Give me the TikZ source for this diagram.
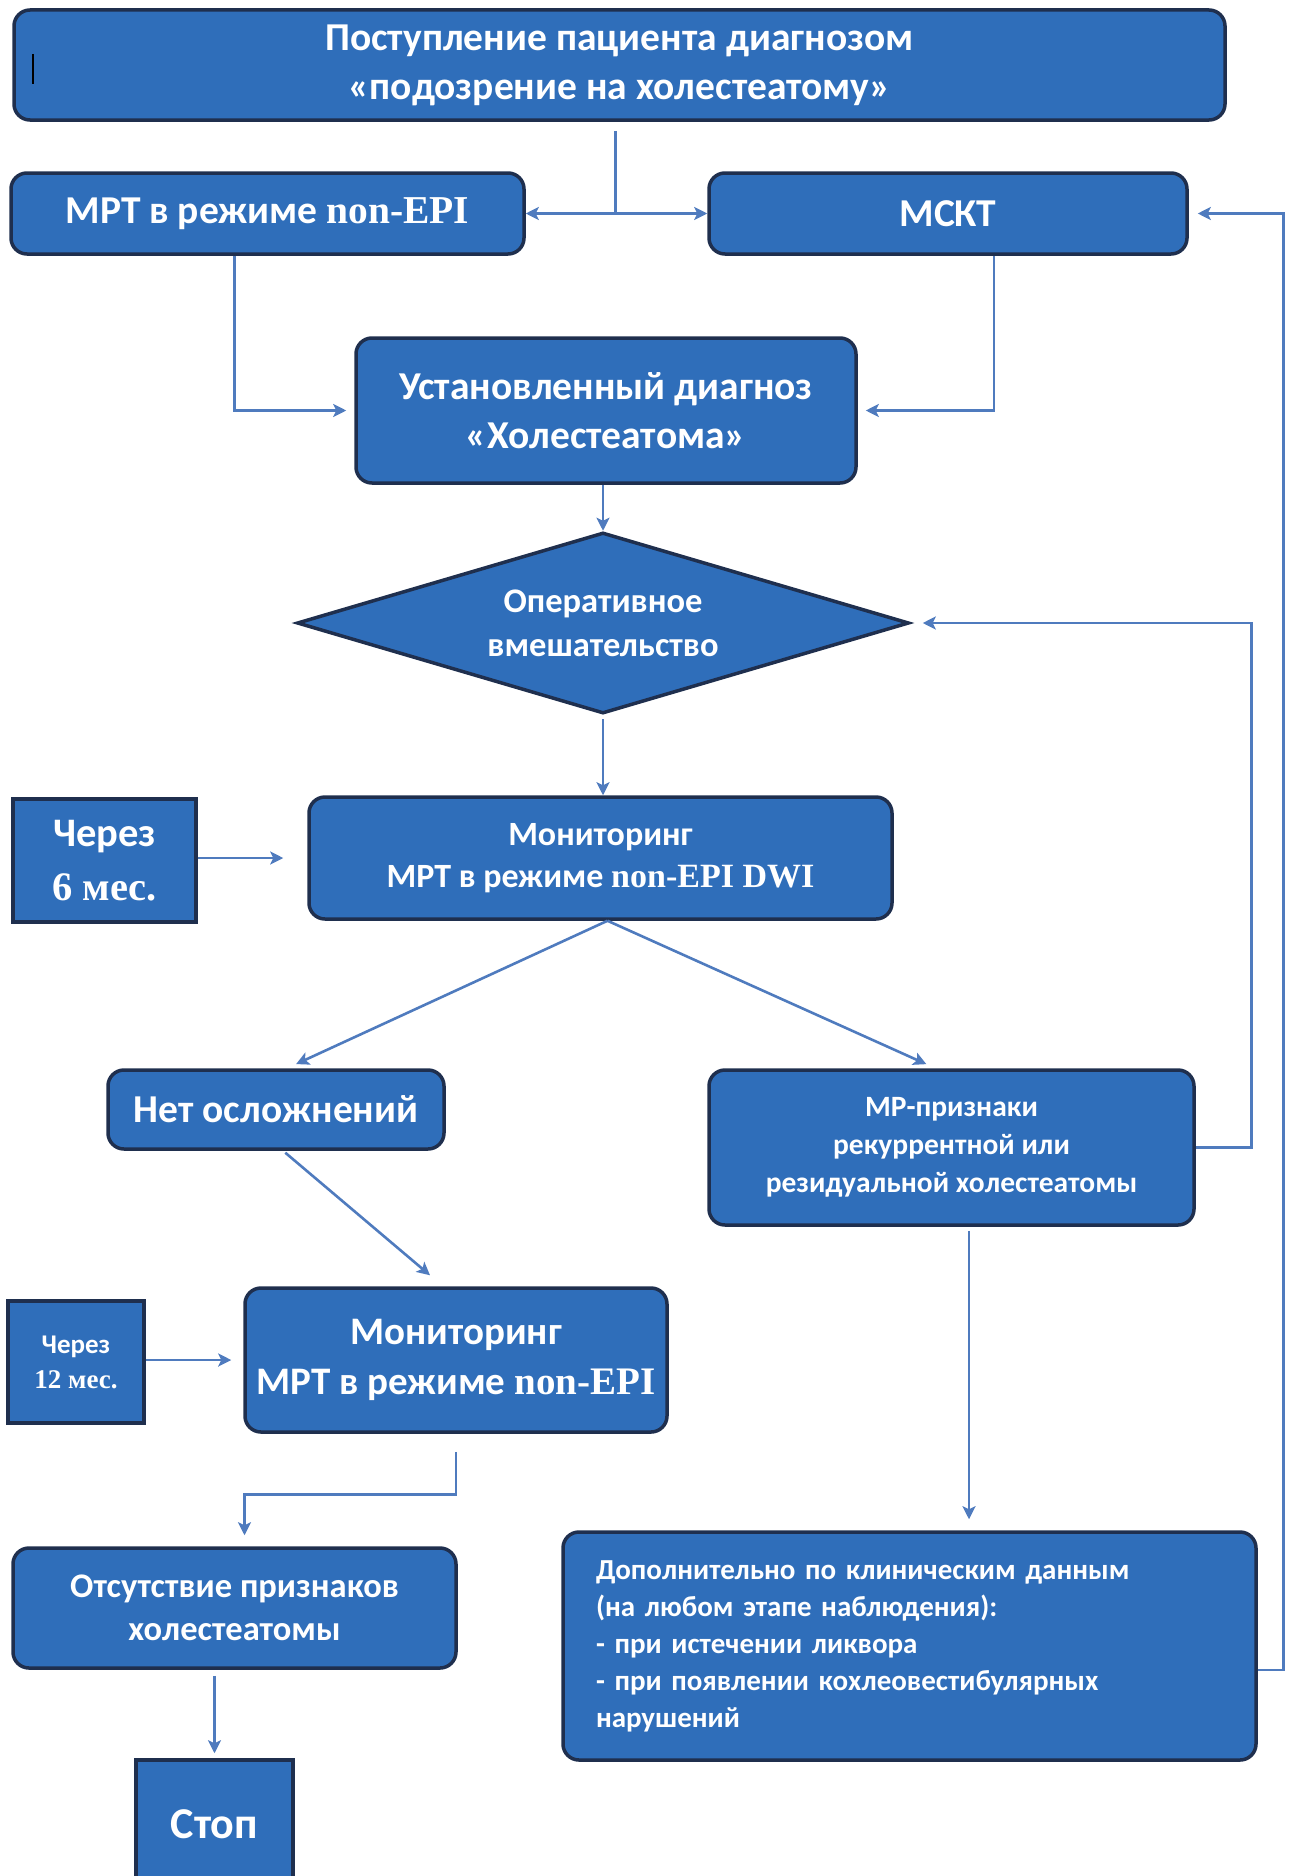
\documentclass[tikz,border=0pt]{standalone}
\usepackage{fontspec}
\setmainfont{Carlito}
\newfontfamily\latfont{Liberation Serif}
\usepackage{xcolor}
\definecolor{boxfill}{HTML}{2F6EBA}
\definecolor{boxline}{HTML}{1F2F4E}
\definecolor{wire}{HTML}{4F7BBE}
\usepackage{tikz}
\usetikzlibrary{arrows.meta,shapes.geometric,calc}
\newcommand{\nonepi}{{\latfont non-EPI}}
\newcommand{\szL}{\fontsize{39.5}{49}\selectfont\bfseries}
\newcommand{\szM}{\fontsize{34.5}{44}\selectfont\bfseries}
\newcommand{\szS}{\fontsize{29.5}{38}\selectfont\bfseries}

\begin{document}
\begin{tikzpicture}[x=1pt, y=-1pt,
  blk/.style={draw=boxline, fill=boxfill, line width=3.5pt, rounded corners=16pt,
    text=white, inner sep=0pt, align=center},
  sqblk/.style={blk, rounded corners=0pt},
  link/.style={draw=wire, line width=2.6pt},
  arr/.style={link, -{Stealth[length=13pt, width=13pt, inset=3pt]}}]
  \useasboundingbox (0,0) rectangle (1294,1876);
  \clip (0,0) rectangle (1294,1876);

  % boxes
  \node[blk, minimum width=1211pt, minimum height=110pt, font=\szL] (top) at (619.5,65)
       {Поступление пациента диагнозом\\«подозрение на холестеатому»};
  \draw[black, line width=2pt] (33,54) -- (33,84);
  \node[blk, minimum width=513pt, minimum height=81pt, font=\szL] (mrt) at (267.5,213.5)
       {МРТ в режиме \nonepi};
  \node[blk, minimum width=478pt, minimum height=81pt, font=\szL] (mskt) at (948,213.5)
       {МСКТ};
  \node[blk, minimum width=500pt, minimum height=145pt, font=\szL] (diag) at (606,410.5)
       {Установленный диагноз\\«Холестеатома»};
  \node[draw=boxline, fill=boxfill, line width=3.5pt, text=white, diamond, aspect=3.38,
        inner sep=0pt, minimum width=612pt, minimum height=181pt, align=center,
        font=\szM] (oper) at (603,623)
       {Оперативное\\вмешательство};
  \node[blk, minimum width=583pt, minimum height=122pt, font=\fontsize{34}{42}\selectfont\bfseries]
       (mon1) at (600.5,858)
       {Мониторинг\\МРТ в режиме {\latfont non-EPI DWI}};
  \node[sqblk, minimum width=183pt, minimum height=123pt, font=\fontsize{40.5}{54}\selectfont\bfseries]
       (six) at (104.5,860.5)
       {Через\\{\latfont 6 мес.}};
  \node[blk, minimum width=336pt, minimum height=79pt, font=\szL] (nocomp) at (276,1109.5)
       {Нет осложнений};
  \node[blk, minimum width=485pt, minimum height=155pt, font=\szS] (mrsign) at (951.5,1147.5)
       {МР-признаки\\рекуррентной или\\резидуальной холестеатомы};
  \node[blk, minimum width=422pt, minimum height=144pt, font=\fontsize{39}{50}\selectfont\bfseries]
       (mon2) at (456,1360)
       {Мониторинг\\МРТ в режиме \nonepi};
  \node[sqblk, minimum width=136pt, minimum height=122pt, font=\fontsize{27}{35}\selectfont\bfseries]
       (twelve) at (76,1362)
       {Через\\{\latfont 12 мес.}};
  \node[blk, minimum width=443pt, minimum height=120pt, font=\fontsize{34.5}{43}\selectfont\bfseries]
       (absent) at (234.5,1608)
       {Отсутствие признаков\\холестеатомы};
  \node[sqblk, minimum width=157pt, minimum height=128pt, font=\fontsize{44}{50}\selectfont\bfseries]
       (stop) at (214.5,1824) {Стоп};
  \node[blk, minimum width=693pt, minimum height=228pt, font=\fontsize{29}{37}\selectfont\bfseries,
        align=left, text width=627pt, inner xsep=33pt] (extra) at (909.5,1646)
       {Дополнительно по клиническим данным\\(на любом этапе наблюдения):\\- при истечении ликвора\\- при появлении кохлеовестибулярных\\нарушений};

  % connectors
  \draw[link, shorten <=9pt] ([xshift=-4pt]top.south) -- ([xshift=-4pt]top.south |- mrt.east) coordinate (fork);
  \draw[arr] (fork) -- (mrt.east);
  \draw[arr] (fork) -- (mskt.west);
  \draw[arr, shorten >=8pt] ([xshift=-33pt]mrt.south) |- (diag.west);
  \draw[arr, shorten >=8pt] ([xshift=46pt]mskt.south) |- (diag.east);
  \draw[arr] (oper.north |- diag.south) -- (oper.north);
  \draw[arr, shorten <=4pt] (oper.south) -- (oper.south |- mon1.north);
  \draw[arr, shorten >=24pt] (six.east |- mon1.west) -- (mon1.west);
  \draw[arr, shorten >=10pt] ([xshift=7pt]mon1.south) -- ([xshift=11pt]nocomp.north);
  \draw[arr, shorten >=10pt] ([xshift=7pt]mon1.south) -- ([xshift=-16pt]mrsign.north);
  \draw[arr, shorten <=3pt, shorten >=17pt] ([xshift=7pt]nocomp.south) -- ([xshift=-13pt]mon2.north);
  \draw[arr, shorten >=12pt] (twelve.east |- mon2.west) -- (mon2.west);
  \draw[arr, shorten <=18pt, shorten >=11pt] (mon2.south) -- ++(0,61) -| ([xshift=10pt]absent.north);
  \draw[arr, shorten <=6pt, shorten >=5pt] ([xshift=-20pt]absent.south) -- ([xshift=-20pt]absent.south |- stop.north);
  \draw[arr, shorten <=4pt, shorten >=11pt] ([xshift=17.5pt]mrsign.south) -- ([xshift=17.5pt]mrsign.south |- extra.north);
  \draw[arr, shorten >=12pt] (mrsign.east) -- ++(56,0) |- (oper.east);
  \draw[arr, shorten >=9pt] ([yshift=-24pt]extra.east) -- ++(26,0) |- (mskt.east);
\end{tikzpicture}
\end{document}
